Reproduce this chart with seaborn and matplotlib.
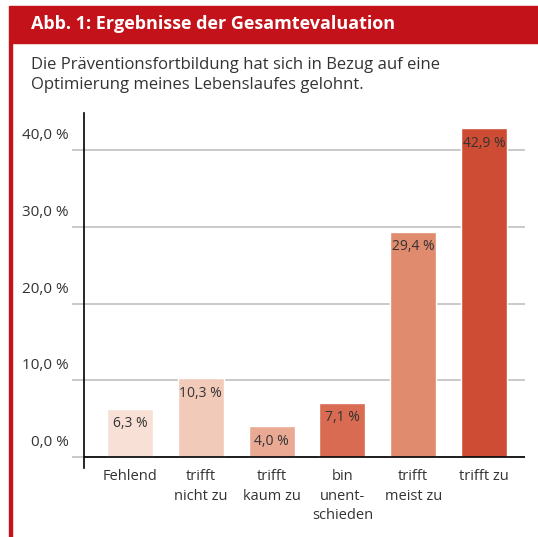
import matplotlib
matplotlib.use("Agg")
import matplotlib.pyplot as plt
import seaborn as sns
import pandas as pd

# values
categories = ["Fehlend", "trifft\nnicht zu", "trifft\nkaum zu", "bin\nunent-\nschieden", "trifft\nmeist zu", "trifft zu"]
values = [6.3, 10.3, 4.0, 7.1, 29.4, 42.9]
bar_labels = ["6,3 %", "10,3 %", "4,0 %", "7,1 %", "29,4 %", "42,9 %"]
colors = ["#f8e0d6", "#f2cab9", "#e9a993", "#d86b51", "#e08a6e", "#ce4c33"]
yticks = [0, 10, 20, 30, 40]
ytick_labels = ["0,0 %", "10,0 %", "20,0 %", "30,0 %", "40,0 %"]

title = "Abb. 1: Ergebnisse der Gesamtevaluation"
subtitle = "Die Präventionsfortbildung hat sich in Bezug auf eine\nOptimierung meines Lebenslaufes gelohnt."

red = "#c4121a"
txt = "#333333"

sns.set_style("white")
plt.rcParams['font.family'] = ['Open Sans', 'DejaVu Sans']

df = pd.DataFrame({"cat": categories, "val": values})

fig = plt.figure(figsize=(5.38, 5.37), dpi=100)
ax = fig.add_axes([84 / 538, 69 / 537, 441 / 538, 355 / 537])

sns.barplot(data=df, x="cat", y="val", hue="cat", palette=colors, width=0.65,
            legend=False, ax=ax, saturation=1)

ax.set_ylim(-1.43, 44.85)
ax.set_xlim(-0.65, 5.58)
ax.set_yticks(yticks)
ax.set_yticklabels([])
ax.yaxis.grid(True, color="#c0c0c0", linewidth=1.2)
ax.set_axisbelow(True)
ax.tick_params(axis="y", length=8.6, width=1.2, color="#c0c0c0", left=True)
ax.yaxis.get_major_ticks()[0].tick1line.set_color("black")
ax.axhline(0, color="black", linewidth=1.2, zorder=3)

for s in ["top", "right", "bottom"]:
    ax.spines[s].set_visible(False)
ax.spines["left"].set_color("black")
ax.spines["left"].set_linewidth(1.2)

ax.set_xlabel("")
ax.set_ylabel("")
ax.tick_params(axis="x", length=0, pad=1)
ax.set_xticks(range(len(categories)))
ax.set_xticklabels(categories, fontsize=10.5, color=txt, linespacing=1.4, va="top")

# y tick labels sit above the gridlines
for yv, lab in zip(yticks, ytick_labels):
    ax.annotate(lab, xy=(0, yv), xycoords=("axes fraction", "data"),
                xytext=(-11, 5), textcoords="offset points",
                ha="right", va="bottom", fontsize=11, color=txt)

for i, (v, lab) in enumerate(zip(values, bar_labels)):
    ax.annotate(lab, xy=(i, v), xytext=(0, -11), textcoords="offset points",
                ha="center", va="center", fontsize=10, color=txt)

# header band and left rule
fig.patches.append(plt.Rectangle((9 / 538, 1 - 43 / 537), 1, 37 / 537,
                                 transform=fig.transFigure, color=red, zorder=0))
fig.patches.append(plt.Rectangle((9 / 538, 0), 2.5 / 538, 1 - 43 / 537,
                                 transform=fig.transFigure, color=red, zorder=0))
fig.text(31 / 538, 1 - 24 / 537, title, color="white", fontsize=13,
         fontweight="bold", va="center", ha="left")
fig.text(31 / 538, 1 - 75 / 537, subtitle, color=txt, fontsize=12,
         va="center", ha="left", linespacing=1.4)

fig.savefig("out.png", dpi=100, facecolor="white")
